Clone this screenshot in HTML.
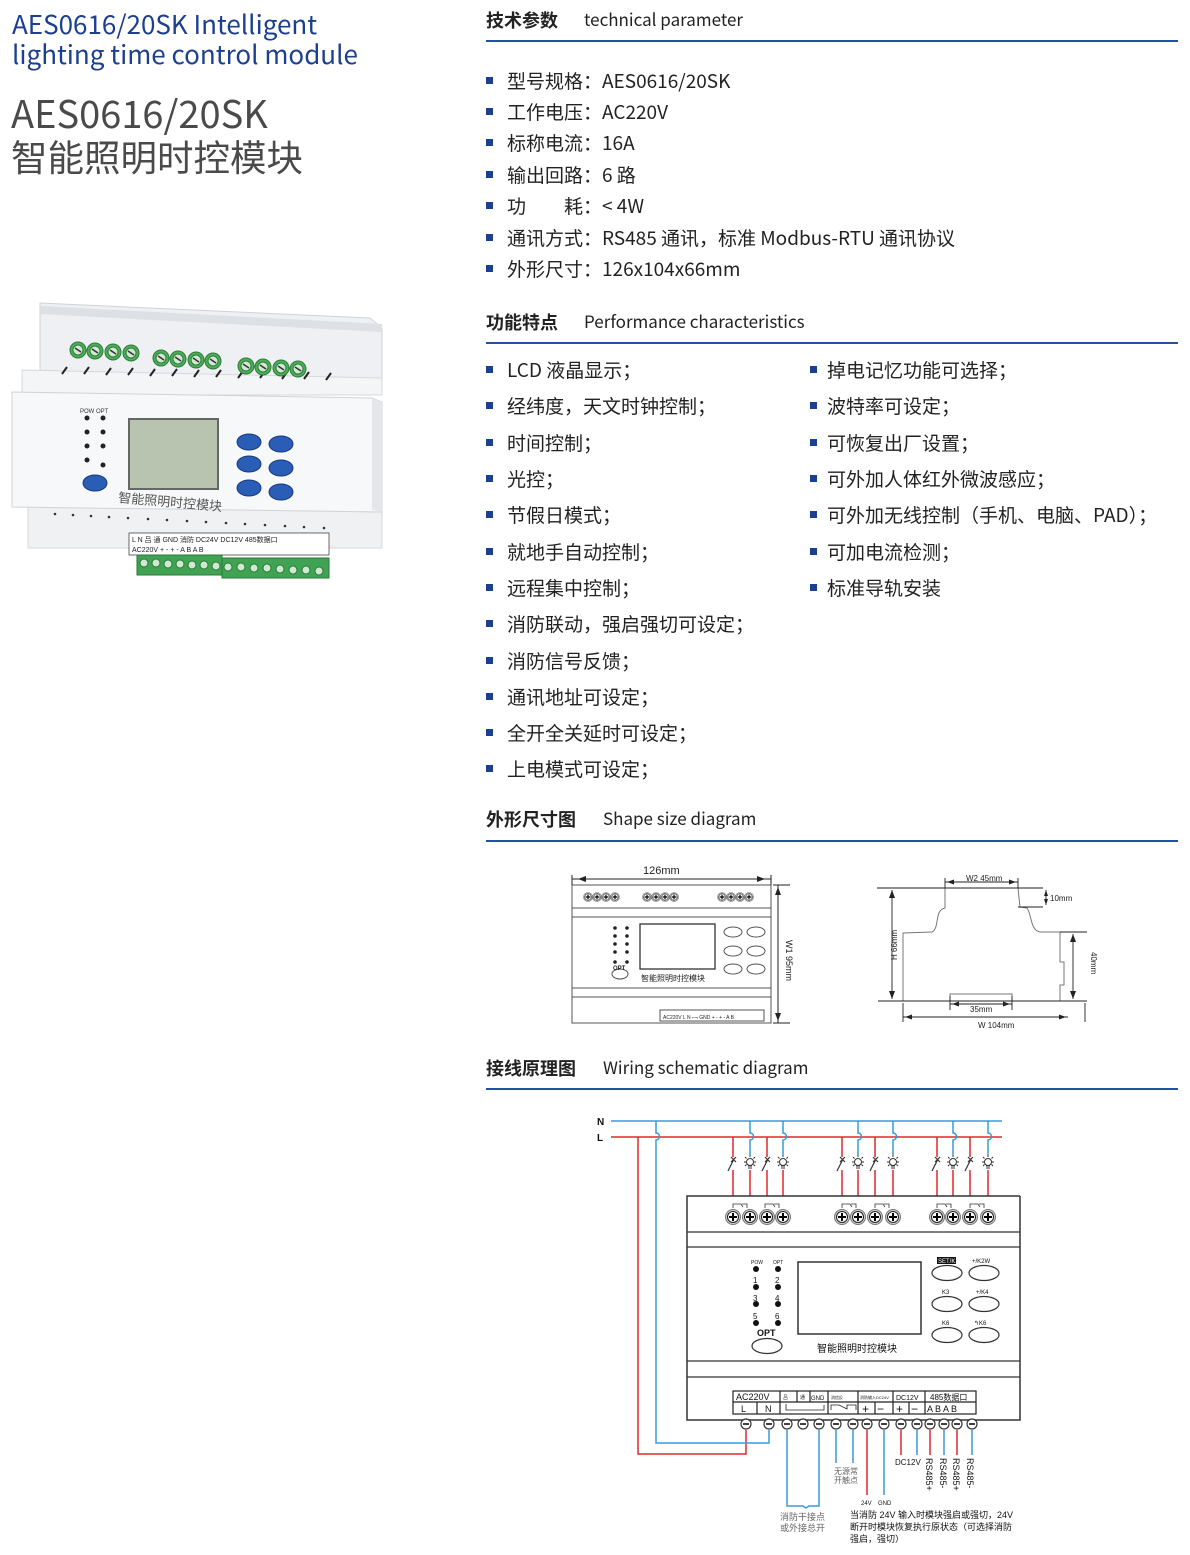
<!DOCTYPE html>
<html><head><meta charset="utf-8">
<style>
html,body{margin:0;padding:0;background:#fff;}
svg{display:block;}
text{font-family:"Liberation Sans","Noto Sans CJK SC",sans-serif;}
.cjk{font-family:"Noto Sans CJK SC","Liberation Sans",sans-serif;}
</style></head>
<body>
<svg width="1190" height="1555" viewBox="0 0 1190 1555" xmlns="http://www.w3.org/2000/svg">
<defs>
  <g id="scr"><circle r="7.5" fill="#d0d0d0" stroke="#777" stroke-width="1"/><circle r="5.5" fill="#fff" stroke="#222" stroke-width="1"/><path d="M-4 0H4M0 -4V4" stroke="#000" stroke-width="2"/></g>
  <g id="bt"><circle r="5" fill="#fff" stroke="#333" stroke-width="1.2"/><path d="M-3 0H3" stroke="#000" stroke-width="1.5"/></g>
  <g id="gs"><circle r="8" fill="#4cae5a" stroke="#2d7a38"/><circle r="5" fill="#cfe8cf" stroke="#2d7a38"/><path d="M-3 -2L3 2" stroke="#333" stroke-width="1.5"/></g>
  <g id="bb"><ellipse rx="12" ry="8" fill="#2a5db5" stroke="#163a80"/></g>
  <g id="lamp" fill="none" stroke="#333" stroke-width="1"><circle cx="0" cy="0" r="3.5"/><path d="M-2 4h4M-2 6h4M0 -7v2M-6 0h2M4 0h2M-5 -5l1.5 1.5M5 -5l-1.5 1.5M-5 4l1.5-1.5M5 4l-1.5-1.5"/></g>
  <g id="sw" fill="none" stroke="#333" stroke-width="1.2"><path d="M-5 8L1 -4M-2 -6l5 5M3 -6l-5 5"/></g>
</defs>

<!-- Left titles -->
<text x="12" y="34" font-size="26" fill="#1c3f8f" class="cjk">AES0616/20SK Intelligent</text>
<text x="12" y="64" font-size="26" fill="#1c3f8f" class="cjk">lighting time control module</text>
<text x="11" y="128" font-size="38" fill="#4a4a4a" class="cjk">AES0616/20SK</text>
<text x="11" y="171" font-size="36.5" fill="#4a4a4a" class="cjk">智能照明时控模块</text>

<!-- Product image -->
<g>
  <path d="M40 303 L370 318 L382 328 L382 395 L40 395 Z" fill="#eef0f3" stroke="#cfd3d8"/>
  <path d="M40 310 L382 328" stroke="#dde0e4" stroke-width="8"/>
  <path d="M22 370 L382 378 L382 395 L22 395 Z" fill="#f4f5f7" stroke="#d5d8dc"/>
  <g stroke="#222" stroke-width="2"><path d="M62 374l5-7M84 374l5-7M106 375l5-7M128 375l5-7M150 376l5-7M172 376l5-7M194 377l5-7M216 377l5-7M238 378l5-7M260 378l5-7M282 379l5-7M304 379l5-7M326 380l5-7"/></g>
  <use href="#gs" x="78" y="350"/><use href="#gs" x="95" y="351"/><use href="#gs" x="113" y="352"/><use href="#gs" x="131" y="353"/>
  <use href="#gs" x="161" y="358"/><use href="#gs" x="178" y="359"/><use href="#gs" x="196" y="360"/><use href="#gs" x="213" y="361"/>
  <use href="#gs" x="246" y="366"/><use href="#gs" x="263" y="367"/><use href="#gs" x="281" y="368"/><use href="#gs" x="298" y="369"/>
  <path d="M28 505 L382 512 L382 548 L28 548 Z" fill="#f0f1f3" stroke="#d5d8dc"/>
  <path d="M12 392 L372 398 L382 402 L382 512 L12 507 Z" fill="#f7f8f9" stroke="#d0d3d7"/>
  <path d="M372 398 L382 402 L382 512 L372 510 Z" fill="#e4e6e9"/>
  <rect x="129" y="419" width="89" height="70" fill="#b9c4b0" stroke="#666" stroke-width="2"/>
  <g fill="#222"><circle cx="87" cy="418" r="2.5"/><circle cx="87" cy="432" r="2.5"/><circle cx="87" cy="446" r="2.5"/><circle cx="87" cy="460" r="2.5"/><circle cx="103" cy="418" r="2.5"/><circle cx="103" cy="432" r="2.5"/><circle cx="103" cy="446" r="2.5"/><circle cx="103" cy="465" r="2.5"/></g>
  <text x="80" y="413" font-size="6" fill="#333">POW OPT</text>
  <use href="#bb" x="95" y="483"/>
  <use href="#bb" x="249" y="442"/><use href="#bb" x="281" y="444"/><use href="#bb" x="249" y="464"/><use href="#bb" x="281" y="468"/><use href="#bb" x="249" y="488"/><use href="#bb" x="281" y="492"/>
  <text x="118" y="502" font-size="13" fill="#555" transform="rotate(5 118 502)" font-family="Noto Serif CJK SC,serif">智能照明时控模块</text>
  <g fill="#333"><circle cx="55" cy="514" r="1.3"/><circle cx="73" cy="515" r="1.3"/><circle cx="91" cy="516" r="1.3"/><circle cx="109" cy="517" r="1.3"/><circle cx="128" cy="518" r="1.3"/><circle cx="148" cy="519" r="1.3"/><circle cx="167" cy="520" r="1.3"/><circle cx="187" cy="521" r="1.3"/><circle cx="206" cy="522" r="1.3"/><circle cx="226" cy="523" r="1.3"/><circle cx="245" cy="524" r="1.3"/><circle cx="265" cy="525" r="1.3"/><circle cx="285" cy="526" r="1.3"/><circle cx="304" cy="527" r="1.3"/><circle cx="324" cy="528" r="1.3"/></g>
  <rect x="129" y="533" width="200" height="22" fill="#fff" stroke="#444" stroke-width="0.8"/>
  <text x="132" y="542" font-size="7" fill="#222">L N 吕 通 GND 消防  DC24V DC12V 485数据口</text>
  <text x="132" y="552" font-size="7" fill="#222">AC220V            +  -   +  -  A B A B</text>
  <rect x="137" y="555" width="85" height="20" fill="#3fa353" stroke="#2a7a3a"/>
  <rect x="222" y="558" width="107" height="20" fill="#3fa353" stroke="#2a7a3a"/>
  <g fill="#cfe8cf" stroke="#2a7a3a"><circle cx="144" cy="563" r="4"/><circle cx="156" cy="563" r="4"/><circle cx="168" cy="564" r="4"/><circle cx="180" cy="564" r="4"/><circle cx="192" cy="565" r="4"/><circle cx="204" cy="565" r="4"/><circle cx="216" cy="566" r="4"/><circle cx="228" cy="567" r="4"/><circle cx="241" cy="567" r="4"/><circle cx="254" cy="568" r="4"/><circle cx="267" cy="568" r="4"/><circle cx="280" cy="569" r="4"/><circle cx="293" cy="570" r="4"/><circle cx="306" cy="570" r="4"/><circle cx="319" cy="571" r="4"/></g>
</g>

<!-- Section headers -->
<g fill="#222">
<text x="486" y="27" font-size="18" font-weight="bold" class="cjk">技术参数</text>
<text x="584" y="26" font-size="17" class="cjk">technical parameter</text>
<text x="486" y="329" font-size="18" font-weight="bold" class="cjk">功能特点</text>
<text x="584" y="328" font-size="17" class="cjk">Performance  characteristics</text>
<text x="486" y="826" font-size="18" font-weight="bold" class="cjk">外形尺寸图</text>
<text x="603" y="825" font-size="17" class="cjk">Shape size diagram</text>
<text x="486" y="1075" font-size="18" font-weight="bold" class="cjk">接线原理图</text>
<text x="603" y="1074" font-size="17" class="cjk">Wiring schematic diagram</text>
</g>
<g fill="#2452a0">
<rect x="486" y="40" width="692" height="2"/>
<rect x="486" y="342" width="692" height="2"/>
<rect x="486" y="840" width="692" height="2"/>
<rect x="486" y="1088" width="692" height="2"/>
</g>

<!-- Tech params -->
<g fill="#1c3f8f">
<rect x="486" y="77" width="7" height="7"/><rect x="486" y="108" width="7" height="7"/><rect x="486" y="139" width="7" height="7"/><rect x="486" y="171" width="7" height="7"/><rect x="486" y="202" width="7" height="7"/><rect x="486" y="234" width="7" height="7"/><rect x="486" y="265" width="7" height="7"/>
</g>
<g fill="#222" font-size="19" class="cjk">
<text x="507" y="88" class="cjk">型号规格：AES0616/20SK</text>
<text x="507" y="119" class="cjk">工作电压：AC220V</text>
<text x="507" y="150" class="cjk">标称电流：16A</text>
<text x="507" y="182" class="cjk">输出回路：6 路</text>
<text x="507" y="213" class="cjk">功　　耗：&lt; 4W</text>
<text x="507" y="245" class="cjk">通讯方式：RS485 通讯，标准 Modbus-RTU 通讯协议</text>
<text x="507" y="276" class="cjk">外形尺寸：126x104x66mm</text>
</g>

<!-- Features -->
<g fill="#1c3f8f">
<rect x="486" y="366" width="7" height="7"/><rect x="486" y="402" width="7" height="7"/><rect x="486" y="439" width="7" height="7"/><rect x="486" y="475" width="7" height="7"/><rect x="486" y="511" width="7" height="7"/><rect x="486" y="548" width="7" height="7"/><rect x="486" y="584" width="7" height="7"/><rect x="486" y="620" width="7" height="7"/><rect x="486" y="657" width="7" height="7"/><rect x="486" y="693" width="7" height="7"/><rect x="486" y="729" width="7" height="7"/><rect x="486" y="765" width="7" height="7"/>
<rect x="810" y="366" width="7" height="7"/><rect x="810" y="402" width="7" height="7"/><rect x="810" y="439" width="7" height="7"/><rect x="810" y="475" width="7" height="7"/><rect x="810" y="511" width="7" height="7"/><rect x="810" y="548" width="7" height="7"/><rect x="810" y="584" width="7" height="7"/>
</g>
<g fill="#222" font-size="19">
<text x="507" y="377" class="cjk">LCD 液晶显示；</text>
<text x="507" y="413">经纬度，天文时钟控制；</text>
<text x="507" y="450">时间控制；</text>
<text x="507" y="486">光控；</text>
<text x="507" y="522">节假日模式；</text>
<text x="507" y="559">就地手自动控制；</text>
<text x="507" y="595">远程集中控制；</text>
<text x="507" y="631">消防联动，强启强切可设定；</text>
<text x="507" y="668">消防信号反馈；</text>
<text x="507" y="704">通讯地址可设定；</text>
<text x="507" y="740">全开全关延时可设定；</text>
<text x="507" y="776">上电模式可设定；</text>
<text x="827" y="377">掉电记忆功能可选择；</text>
<text x="827" y="413">波特率可设定；</text>
<text x="827" y="450">可恢复出厂设置；</text>
<text x="827" y="486">可外加人体红外微波感应；</text>
<text x="827" y="522" class="cjk">可外加无线控制（手机、电脑、PAD）；</text>
<text x="827" y="559">可加电流检测；</text>
<text x="827" y="595">标准导轨安装</text>
</g>

<!-- Shape size diagram: front view -->
<g stroke="#555" fill="none" stroke-width="1">
  <rect x="572" y="885" width="199" height="138"/>
  <path d="M572 908H771M572 917H771M572 988H771M572 997H771"/>
  <path d="M572 879H771M572 875V885M771 875V885" stroke="#222"/>
  <path d="M578 879l8-3v6zM765 879l-8-3v6z" fill="#222" stroke="none"/>
  <path d="M778 885V1023M773 885H790M773 1023H790" stroke="#222"/>
  <path d="M778 887l-3 8h6zM778 1021l-3-8h6z" fill="#222" stroke="none"/>
  <rect x="640" y="924" width="75" height="45" stroke="#333" stroke-width="1.3"/>
  <ellipse cx="620" cy="974" rx="8" ry="5"/>
  <ellipse cx="733" cy="932" rx="9" ry="5"/><ellipse cx="756" cy="932" rx="9" ry="5"/>
  <ellipse cx="733" cy="951" rx="9" ry="5"/><ellipse cx="756" cy="951" rx="9" ry="5"/>
  <ellipse cx="733" cy="969" rx="9" ry="5"/><ellipse cx="756" cy="969" rx="9" ry="5"/>
  <rect x="660" y="1010" width="104" height="11"/>
</g>
<g fill="#222"><circle cx="615" cy="928" r="1.8"/><circle cx="615" cy="936" r="1.8"/><circle cx="615" cy="944" r="1.8"/><circle cx="615" cy="952" r="1.8"/><circle cx="615" cy="962" r="1.8"/><circle cx="627" cy="928" r="1.8"/><circle cx="627" cy="936" r="1.8"/><circle cx="627" cy="944" r="1.8"/><circle cx="627" cy="952" r="1.8"/><circle cx="627" cy="962" r="1.8"/></g>
<g>
  <use href="#scr" transform="translate(588 897) scale(0.6)"/><use href="#scr" transform="translate(597 897) scale(0.6)"/><use href="#scr" transform="translate(606 897) scale(0.6)"/><use href="#scr" transform="translate(615 897) scale(0.6)"/>
  <use href="#scr" transform="translate(647 897) scale(0.6)"/><use href="#scr" transform="translate(656 897) scale(0.6)"/><use href="#scr" transform="translate(665 897) scale(0.6)"/><use href="#scr" transform="translate(674 897) scale(0.6)"/>
  <use href="#scr" transform="translate(722 897) scale(0.6)"/><use href="#scr" transform="translate(731 897) scale(0.6)"/><use href="#scr" transform="translate(740 897) scale(0.6)"/><use href="#scr" transform="translate(749 897) scale(0.6)"/>
</g>
<text x="643" y="874" font-size="11" fill="#222">126mm</text>
<text x="641" y="981" font-size="8" fill="#222">智能照明时控模块</text>
<text x="613" y="970" font-size="6" fill="#222" font-weight="bold">OPT</text>
<text x="663" y="1019" font-size="5" fill="#222">AC220V L N  ⌐¬  GND  + - + - A B</text>
<text x="786" y="940" font-size="9" fill="#222" transform="rotate(90 786 940)">W1    95mm</text>

<!-- Shape size diagram: side view -->
<g stroke="#777" fill="none" stroke-width="1">
  <path d="M945 888 L1018 888 L1020 907 L1027 908 C1032 915 1030 930 1040 932 L1060 932 L1060 962 L1064 962 L1064 985 L1060 985 L1060 1001 L903 1001 L903 933 L932 932 C940 928 934 910 945 908 Z"/>
  <path d="M950 1001V994H1012V1001"/>
</g>
<g stroke="#222" fill="none" stroke-width="0.9">
  <path d="M877 888H1043M1018 907H1043M878 1001H1087M1060 932H1087"/>
  <path d="M892 890V999M1046 890V905M1073 934V999"/>
  <path d="M945 882H1018M945 878V888M1018 878V888"/>
  <path d="M950 1004H1012M950 996V1010M1012 996V1010"/>
  <path d="M903 1017H1068M903 1003V1022M1085 1003V1022"/>
</g>
<g fill="#222">
  <path d="M892 890l-3 8h6zM892 999l-3-8h6zM1046 890l-2 6h4zM1046 905l-2-6h4zM1073 934l-3 8h6zM1073 999l-3-8h6zM947 882l7-2.5v5zM1016 882l-7-2.5v5zM952 1004l7-2.5v5zM1010 1004l-7-2.5v5zM905 1017l7-2.5v5zM1066 1017l-7-2.5v5z"/>
</g>
<g font-size="8" fill="#222">
<text x="966" y="881">W2  45mm</text>
<text x="1050" y="901">10mm</text>
<text x="970" y="1012">35mm</text>
<text x="978" y="1028">W    104mm</text>
<text x="897" y="960" transform="rotate(-90 897 960)">H     66mm</text>
<text x="1091" y="952" transform="rotate(90 1091 952)">40mm</text>
</g>

<!-- Wiring diagram -->
<text x="597" y="1125" font-size="10" font-weight="bold" fill="#111">N</text>
<text x="597" y="1141" font-size="10" font-weight="bold" fill="#111">L</text>
<g stroke-width="1.5" fill="none">
  <path d="M611 1121H1002" stroke="#3a9ad9"/>
  <path d="M611 1137H1002" stroke="#e0262e"/>
  <path d="M638 1137V1454H746V1430" stroke="#e0262e"/>
  <path d="M656 1121V1133a3 3 0 0 1 0 7V1443H769V1430" stroke="#3a9ad9"/>
  <path d="M733 1137V1157M733 1170V1196M767 1137V1157M767 1170V1196M842 1137V1157M842 1170V1196M875 1137V1157M875 1170V1196M937 1137V1157M937 1170V1196M970 1137V1157M970 1170V1196" stroke="#e0262e"/>
  <path d="M750 1121V1133a3 3 0 0 1 0 7V1155M783 1121V1133a3 3 0 0 1 0 7V1155M858 1121V1133a3 3 0 0 1 0 7V1155M893 1121V1133a3 3 0 0 1 0 7V1155M953 1121V1133a3 3 0 0 1 0 7V1155M988 1121V1133a3 3 0 0 1 0 7V1155" stroke="#3a9ad9"/>
  <path d="M750 1170V1196M783 1170V1196M858 1170V1196M893 1170V1196M953 1170V1196M988 1170V1196" stroke="#e0262e"/>
  <path d="M787 1430V1506H803l3 2 3-2H819V1430" stroke="#3a9ad9"/>
  <path d="M836 1430V1463M853 1430V1463M884 1430V1495M917 1430V1455M944 1430V1455M972 1430V1455" stroke="#3a9ad9"/>
  <path d="M867 1430V1495M901 1430V1455M930 1430V1455M957 1430V1455" stroke="#e0262e"/>
</g>
<g>
  <use href="#sw" x="733" y="1163"/><use href="#lamp" x="750" y="1162"/><use href="#sw" x="767" y="1163"/><use href="#lamp" x="783" y="1162"/>
  <use href="#sw" x="842" y="1163"/><use href="#lamp" x="858" y="1162"/><use href="#sw" x="875" y="1163"/><use href="#lamp" x="893" y="1162"/>
  <use href="#sw" x="937" y="1163"/><use href="#lamp" x="953" y="1162"/><use href="#sw" x="970" y="1163"/><use href="#lamp" x="988" y="1162"/>
</g>
<g stroke="#333" fill="none" stroke-width="1.5">
  <path d="M1020 1196H687V1420H1020V1196"/>
  <path d="M687 1232H1020M687 1247H1020M687 1361H1020M687 1377H1020" stroke-width="1.3"/>
  <rect x="798" y="1262" width="123" height="72"/>
  <ellipse cx="947" cy="1273" rx="15" ry="7.5" stroke-width="1.2"/><ellipse cx="984" cy="1273" rx="15" ry="7.5" stroke-width="1.2"/>
  <ellipse cx="947" cy="1304" rx="15" ry="7.5" stroke-width="1.2"/><ellipse cx="984" cy="1304" rx="15" ry="7.5" stroke-width="1.2"/>
  <ellipse cx="947" cy="1335" rx="15" ry="7.5" stroke-width="1.2"/><ellipse cx="984" cy="1335" rx="15" ry="7.5" stroke-width="1.2"/>
  <ellipse cx="767" cy="1346" rx="15" ry="7.5" stroke-width="1.2"/>
  <path d="M733 1208v-4h8l2 3M742 1204h5v4M765 1208v-4h8l2 3M774 1204h5v4M842 1208v-4h8l2 3M851 1204h5v4M875 1208v-4h8l2 3M884 1204h5v4M937 1208v-4h8l2 3M946 1204h5v4M970 1208v-4h8l2 3M979 1204h5v4" stroke-width="0.8"/>
</g>
<g>
  <use href="#scr" x="733" y="1217"/><use href="#scr" x="750" y="1217"/><use href="#scr" x="767" y="1217"/><use href="#scr" x="783" y="1217"/>
  <use href="#scr" x="842" y="1217"/><use href="#scr" x="858" y="1217"/><use href="#scr" x="875" y="1217"/><use href="#scr" x="893" y="1217"/>
  <use href="#scr" x="937" y="1217"/><use href="#scr" x="953" y="1217"/><use href="#scr" x="970" y="1217"/><use href="#scr" x="988" y="1217"/>
</g>
<g fill="#111"><circle cx="756" cy="1269" r="3"/><circle cx="756" cy="1287" r="3"/><circle cx="756" cy="1304" r="3"/><circle cx="756" cy="1323" r="3"/><circle cx="778" cy="1269" r="3"/><circle cx="778" cy="1287" r="3"/><circle cx="778" cy="1304" r="3"/><circle cx="778" cy="1323" r="3"/></g>
<g fill="#111" font-size="8">
  <text x="751" y="1264" font-size="5">POW</text><text x="773" y="1264" font-size="5">OPT</text>
  <text x="753" y="1283">1</text><text x="775" y="1283">2</text>
  <text x="753" y="1301">3</text><text x="775" y="1301">4</text>
  <text x="753" y="1319">5</text><text x="775" y="1319">6</text>
  <text x="757" y="1336" font-weight="bold" font-size="9">OPT</text>
  <text x="817" y="1352" font-size="10">智能照明时控模块</text>
  <rect x="937" y="1257" width="19" height="7" fill="#111"/>
  <text x="938" y="1263" font-size="6" fill="#fff">SET/K1</text>
  <text x="972" y="1263" font-size="6">+/K2W</text>
  <text x="942" y="1294" font-size="6">K3</text><text x="976" y="1294" font-size="6">+/K4</text>
  <text x="942" y="1325" font-size="6">K6</text><text x="974" y="1325" font-size="6">↰K6</text>
</g>
<g stroke="#222" fill="none" stroke-width="1.2">
  <rect x="733" y="1391" width="243" height="23"/>
  <path d="M733 1402H976M780 1391V1414M757 1402V1414M797 1391V1402M810 1391V1402M828 1391V1414M858 1391V1414M893 1391V1414M925 1391V1414M875 1402V1414M909 1402V1414"/>
  <path d="M786 1404v6h38v-5M831 1410v-5h8l8 4v-4h9v5" stroke-width="0.8"/>
</g>
<g fill="#111">
  <text x="736" y="1400" font-size="9">AC220V</text>
  <text x="741" y="1412" font-size="9">L</text><text x="765" y="1412" font-size="9">N</text>
  <text x="783" y="1399" font-size="5">吕</text><text x="800" y="1399" font-size="5">通</text><text x="811" y="1400" font-size="6">GND</text>
  <text x="831" y="1399" font-size="4">消信反</text><text x="860" y="1399" font-size="4">消防输入DC24V</text>
  <text x="896" y="1400" font-size="7">DC12V</text><text x="930" y="1400" font-size="8">485数据口</text>
  <text x="862" y="1413" font-size="12">+</text><text x="877" y="1413" font-size="12">−</text><text x="896" y="1413" font-size="12">+</text><text x="911" y="1413" font-size="12">−</text>
  <text x="927" y="1412" font-size="9">A B A B</text>
</g>
<g>
  <use href="#bt" x="746" y="1424"/><use href="#bt" x="769" y="1424"/><use href="#bt" x="787" y="1424"/><use href="#bt" x="803" y="1424"/><use href="#bt" x="819" y="1424"/><use href="#bt" x="836" y="1424"/><use href="#bt" x="853" y="1424"/><use href="#bt" x="867" y="1424"/><use href="#bt" x="884" y="1424"/><use href="#bt" x="901" y="1424"/><use href="#bt" x="917" y="1424"/><use href="#bt" x="930" y="1424"/><use href="#bt" x="944" y="1424"/><use href="#bt" x="957" y="1424"/><use href="#bt" x="972" y="1424"/>
</g>
<g fill="#111">
  <text x="834" y="1474" font-size="8" fill="#666">无源常</text>
  <text x="834" y="1483" font-size="8" fill="#666">开触点</text>
  <text x="861" y="1505" font-size="6">24V</text><text x="878" y="1505" font-size="6">GND</text>
  <text x="895" y="1465" font-size="8">DC12V</text>
  <text x="926" y="1458" font-size="9" transform="rotate(90 926 1458)">RS485+</text>
  <text x="940" y="1458" font-size="9" transform="rotate(90 940 1458)">RS485-</text>
  <text x="953" y="1458" font-size="9" transform="rotate(90 953 1458)">RS485+</text>
  <text x="967" y="1458" font-size="9" transform="rotate(90 967 1458)">RS485-</text>
  <text x="780" y="1520" font-size="9" fill="#666">消防干接点</text>
  <text x="780" y="1531" font-size="9" fill="#666">或外接总开</text>
  <text x="850" y="1518" font-size="9">当消防 24V 输入时模块强启或强切，24V</text>
  <text x="850" y="1530" font-size="9">断开时模块恢复执行原状态（可选择消防</text>
  <text x="850" y="1542" font-size="9">强启，强切）</text>
</g>
</svg>
</body></html>
